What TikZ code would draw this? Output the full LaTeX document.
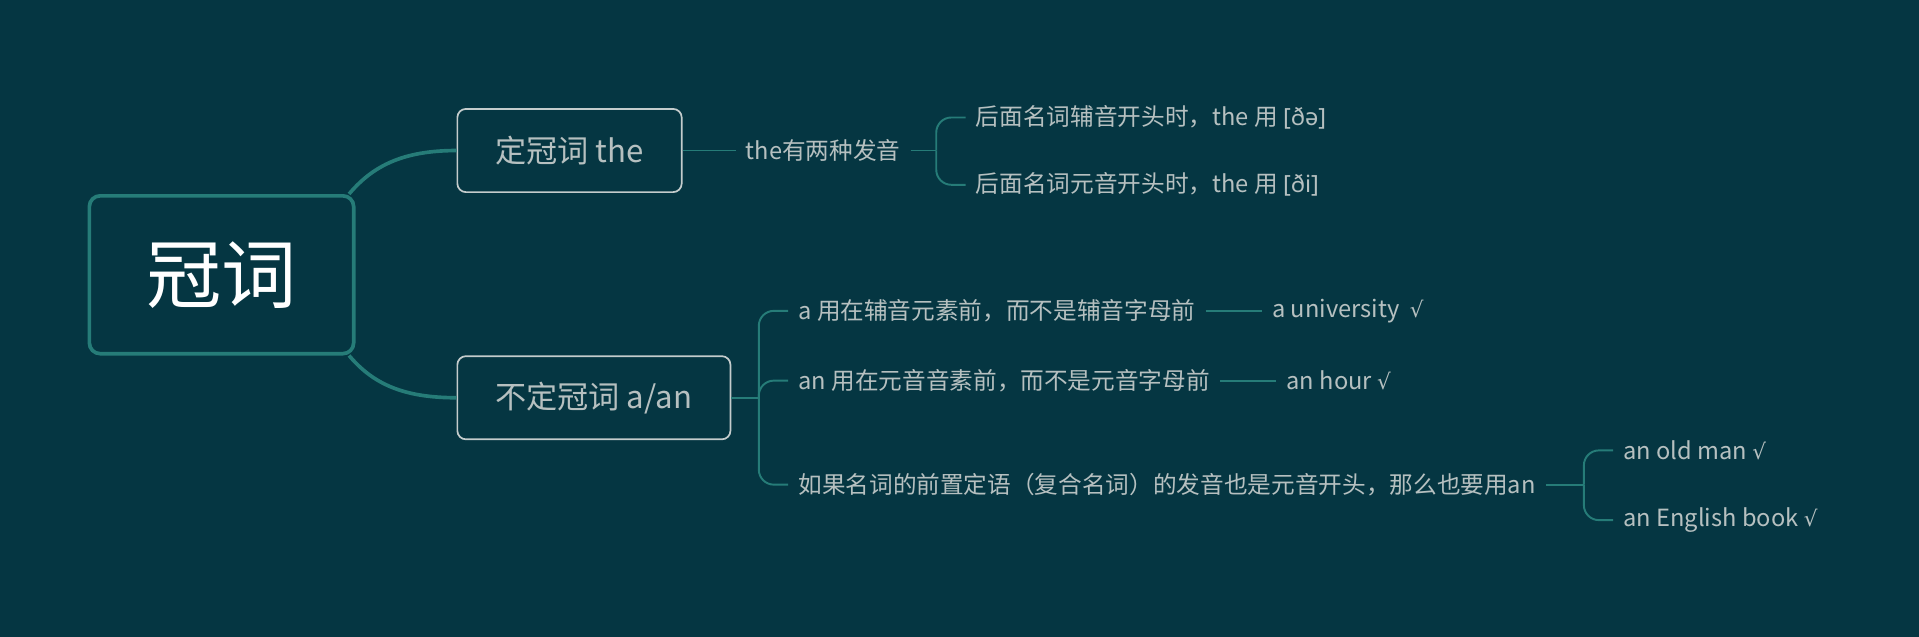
\documentclass[tikz,border=0pt]{standalone}
\usepackage{fontspec}
\setmainfont{Noto Sans CJK SC}
\newfontfamily\ipafont{Noto Sans}
\newfontfamily\symfont{DejaVu Sans}
\usetikzlibrary{positioning}
\definecolor{bgteal}{RGB}{5,54,66}
\definecolor{lineteal}{RGB}{38,124,120}
\definecolor{textgray}{RGB}{182,192,192}
\definecolor{boxgray}{RGB}{196,204,204}
\newcommand{\ok}{{\symfont\fontsize{10}{12}\selectfont √}}

\begin{document}
\begin{tikzpicture}[
    x=0.02cm, y=-0.02cm,
    node distance=0.92cm,
    root/.style={rectangle, draw=lineteal, line width=1.7pt, rounded corners=5pt, minimum width=4.32cm, minimum height=2.58cm, text=white, font=\fontsize{35}{40}\selectfont},
    topic/.style={rectangle, draw=boxgray, line width=0.8pt, rounded corners=4pt, inner xsep=0.62cm, minimum height=1.36cm, text=textgray, font=\fontsize{14.5}{17}\selectfont},
    leaf/.style={inner xsep=0.16cm, inner ysep=2pt, anchor=west, text=textgray, font=\fontsize{11}{13}\selectfont},
    trunk/.style={draw=lineteal, line width=1.7pt},
    branch/.style={draw=lineteal, line width=0.9pt, rounded corners=7pt}
]

\useasboundingbox (0,0) rectangle (1568,520);
\fill[bgteal] (-2,-2) rectangle (1570,522);

\node[root] (guanci) at (181,224.5) {冠词};
\node[topic, anchor=west] (def) at (373,123) {定冠词 the};
\node[topic, anchor=west] (indef) at (373,325) {不定冠词 a/an};

\draw[trunk] ([xshift=-3pt]guanci.north east) .. controls (305,135) and (330,123) .. (def.west);
\draw[trunk] ([xshift=-3pt]guanci.south east) .. controls (305,314) and (330,325) .. (indef.west);

% the
\node[leaf] (pron) at (601,123) {the有两种发音};
\coordinate (pj) at (765,123);
\node[leaf] (cons) at (789,96) {后面名词辅音开头时，the 用 {\ipafont [ðə]}};
\node[leaf] (vowel) at (789,151) {后面名词元音开头时，the 用 {\ipafont [ði]}};

\draw[branch] (def.east) -- (pron.west);
\draw[branch] (pron.east) -- (pj);
\draw[branch] (pj) |- (cons.west);
\draw[branch] (pj) |- (vowel.west);

% a/an
\coordinate (ij) at (620,325);
\node[leaf] (acons) at (644,254) {a 用在辅音元素前，而不是辅音字母前};
\node[leaf] (anvow) at (644,311) {an 用在元音音素前，而不是元音字母前};
\node[leaf] (compound) at (644,396) {如果名词的前置定语（复合名词）的发音也是元音开头，那么也要用an};
\node[leaf, right=of acons] (uni) {a university\ \ \ok};
\node[leaf, right=of anvow] (hour) {an hour \ok};

\draw[branch] (indef.east) -- (ij);
\draw[branch] (ij) |- (acons.west);
\draw[branch] (ij) |- (anvow.west);
\draw[branch] (ij) |- (compound.west);
\draw[branch] (acons.east) -- (uni.west);
\draw[branch] (anvow.east) -- (hour.west);

\draw[branch] (compound.east) -- ++(0.62cm,0) coordinate (cj);
\node[leaf] (oldman) at ([xshift=0.48cm, yshift=0.56cm]cj) {an old man \ok};
\node[leaf] (engbook) at ([xshift=0.48cm, yshift=-0.58cm]cj) {an English book \ok};
\draw[branch] (cj) |- (oldman.west);
\draw[branch] (cj) |- (engbook.west);

\end{tikzpicture}
\end{document}
